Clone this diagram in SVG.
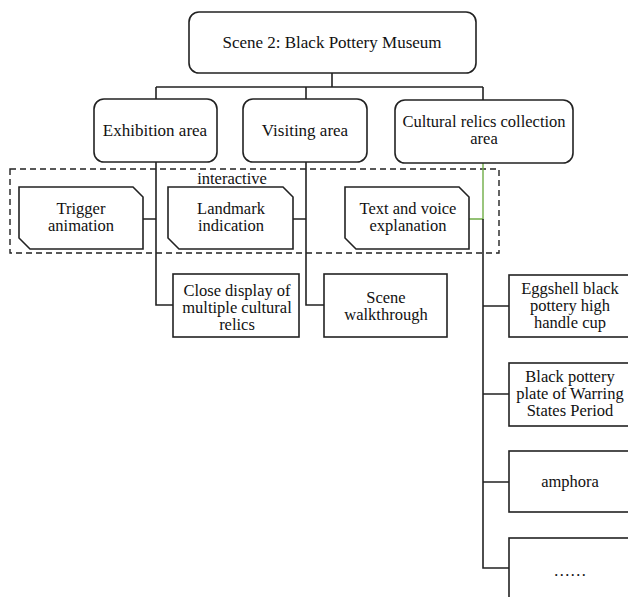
<svg xmlns="http://www.w3.org/2000/svg" width="628" height="597" viewBox="0 0 628 597">
<style>
.box{fill:#fff;stroke:#222;stroke-width:1.6}
.ln{fill:none;stroke:#222;stroke-width:1.6}
.gr{fill:none;stroke:#70ad47;stroke-width:1.4}
.dash{fill:none;stroke:#222;stroke-width:1.4;stroke-dasharray:6 4}
text{font-family:"Liberation Serif","Times New Roman",serif;font-size:16.5px;fill:#111;text-anchor:middle}
.big{font-size:17px}
</style>
<rect width="628" height="597" fill="#fff"/>
<rect class="dash" x="10" y="169" width="489" height="84"/>
<text x="232" y="184">interactive</text>
<g id="connectors">
<path class="ln" d="M332,73 V87 M156,87 H483 M156,87 V99 M306,87 V99 M483,87 V100"/>
<path class="ln" d="M156,162 V305 H173 M143,219 H156"/>
<path class="ln" d="M306,162 V305 H324 M293,219 H306"/>
<path class="gr" d="M483,163 V219 H469"/>
<path class="ln" d="M483,219 V568 H509 M483,306 H509 M483,394 H509 M483,482 H509"/>
</g>
<g id="root"><rect class="box" x="189" y="12" width="287" height="61" rx="10"/><text class="big" x="332" y="48">Scene 2: Black Pottery Museum</text></g>
<g id="exhibition"><rect class="box" x="94" y="99" width="123" height="63" rx="10"/><text class="big" x="155" y="136">Exhibition area</text></g>
<g id="visiting"><rect class="box" x="243" y="99" width="124" height="63" rx="10"/><text class="big" x="305" y="136">Visiting area</text></g>
<g id="cultural"><rect class="box" x="395" y="100" width="178" height="63" rx="10"/><text x="484" y="127">Cultural relics collection</text><text x="484" y="144">area</text></g>
<g id="trigger"><path class="box" d="M19,187 H133 L143,197 V249 H30 L19,238 Z"/><text x="81" y="214">Trigger</text><text x="81" y="231">animation</text></g>
<g id="landmark"><path class="box" d="M168,187 H283 L293,197 V249 H179 L168,238 Z"/><text x="231" y="214">Landmark</text><text x="231" y="231">indication</text></g>
<g id="textvoice"><path class="box" d="M345,187 H459 L469,197 V249 H356 L345,238 Z"/><text x="408" y="214">Text and voice</text><text x="408" y="231">explanation</text></g>
<g id="closedisplay"><rect class="box" x="173" y="274" width="126" height="63"/><text x="237" y="296">Close display of</text><text x="237" y="313">multiple cultural</text><text x="237" y="330">relics</text></g>
<g id="walkthrough"><rect class="box" x="324" y="274" width="123" height="63"/><text x="386" y="303">Scene</text><text x="386" y="320">walkthrough</text></g>
<g id="eggshell"><rect class="box" x="509" y="275" width="125" height="62"/><text x="570" y="294">Eggshell black</text><text x="570" y="311">pottery high</text><text x="570" y="328">handle cup</text></g>
<g id="plate"><rect class="box" x="509" y="363" width="125" height="63"/><text x="570" y="382">Black pottery</text><text x="570" y="399">plate of Warring</text><text x="570" y="416">States Period</text></g>
<g id="amphora"><rect class="box" x="509" y="451" width="125" height="61"/><text x="570" y="487">amphora</text></g>
<g id="more"><rect class="box" x="509" y="538" width="125" height="70"/><text x="570" y="576">……</text></g>
</svg>
